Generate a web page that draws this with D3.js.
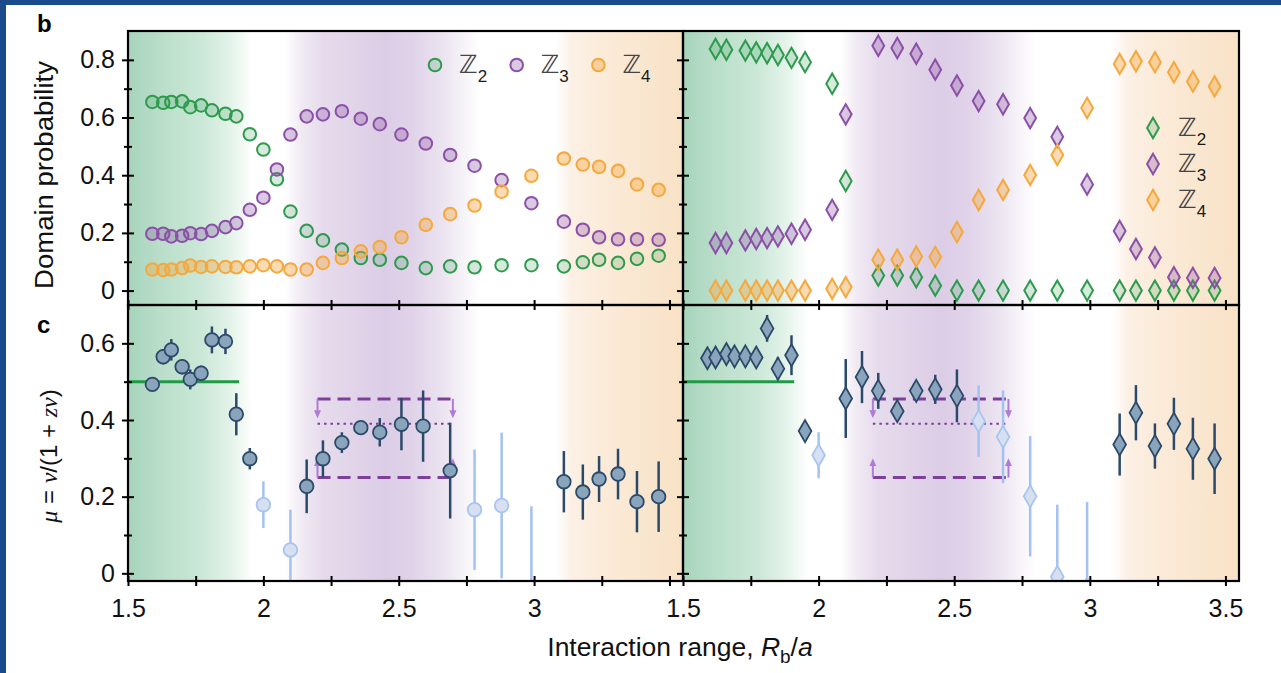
<!DOCTYPE html>
<html>
<head>
<meta charset="utf-8">
<script src="https://cdnjs.cloudflare.com/ajax/libs/d3/7.8.5/d3.min.js"></script>
<style>
  body { margin: 0; background: #fff; }
  svg text { font-family: "Liberation Sans", Arial, sans-serif; }
</style>
</head>
<body>
<div id="chart"></div>
<script>
// ---- data ----
// panel b, left (circles)
var xB_left = [1.59, 1.63, 1.66, 1.70, 1.73, 1.77, 1.81, 1.86, 1.90, 1.95, 2.00, 2.05, 2.10, 2.16, 2.22,
               2.29, 2.36, 2.43, 2.51, 2.60, 2.69, 2.78, 2.88, 2.99, 3.11, 3.18, 3.24, 3.31, 3.38, 3.46];
var z2_left = [0.654, 0.651, 0.654, 0.656, 0.636, 0.642, 0.625, 0.613, 0.604, 0.542, 0.489, 0.386, 0.274, 0.207, 0.174,
               0.142, 0.113, 0.107, 0.096, 0.078, 0.084, 0.081, 0.088, 0.088, 0.084, 0.098, 0.107, 0.096, 0.110, 0.121];
var z3_left = [0.197, 0.197, 0.188, 0.190, 0.199, 0.196, 0.207, 0.220, 0.234, 0.280, 0.322, 0.420, 0.541, 0.604, 0.611,
               0.622, 0.596, 0.577, 0.541, 0.510, 0.470, 0.433, 0.383, 0.303, 0.239, 0.211, 0.185, 0.178, 0.178, 0.176];
var z4_left = [0.073, 0.071, 0.073, 0.078, 0.087, 0.082, 0.084, 0.082, 0.081, 0.084, 0.088, 0.084, 0.073, 0.073, 0.096,
               0.113, 0.136, 0.151, 0.185, 0.228, 0.265, 0.295, 0.343, 0.398, 0.458, 0.437, 0.429, 0.415, 0.368, 0.349];

// panel b, right (diamonds)
var xB_right = [1.62, 1.66, 1.73, 1.77, 1.81, 1.85, 1.90, 1.95, 2.05, 2.10, 2.22, 2.29, 2.36,
                2.43, 2.51, 2.59, 2.68, 2.78, 2.88, 2.99, 3.11, 3.17, 3.24, 3.31, 3.38, 3.46];
var z2_right = [0.838, 0.835, 0.832, 0.826, 0.823, 0.817, 0.807, 0.792, 0.717, 0.380, 0.052, 0.052, 0.046,
                0.017, 0, 0, 0, 0, 0, 0, 0, 0, 0, 0, 0, 0];
var z3_right = [0.165, 0.165, 0.174, 0.179, 0.182, 0.188, 0.197, 0.211, 0.280, 0.611, 0.849, 0.841, 0.821,
                0.766, 0.711, 0.657, 0.646, 0.598, 0.533, 0.368, 0.207, 0.144, 0.115, 0.046, 0.044, 0.044];
var z4_right = [0, 0, 0, 0, 0, 0, 0, 0, 0.006, 0.012, 0.107, 0.107, 0.118,
                0.117, 0.203, 0.314, 0.349, 0.401, 0.470, 0.633, 0.786, 0.795, 0.792, 0.757, 0.725, 0.708];

// panel c, left (circles with error bars)
var xC_left = [1.59, 1.63, 1.66, 1.70, 1.73, 1.77, 1.81, 1.86, 1.90, 1.95, 2.00, 2.10, 2.16, 2.22, 2.29,
               2.36, 2.43, 2.51, 2.59, 2.69, 2.78, 2.88, 2.99, 3.11, 3.18, 3.24, 3.31, 3.38, 3.46];
var mu_left = [0.493, 0.565, 0.583, 0.539, 0.506, 0.522, 0.609, 0.605, 0.415, 0.299, 0.179, 0.061, 0.227, 0.299, 0.341,
               0.380, 0.368, 0.389, 0.384, 0.268, 0.166, 0.177, -0.04, 0.239, 0.212, 0.246, 0.259, 0.187, 0.200];
var muErr_left = [0.012, 0.02, 0.028, 0.02, 0.026, 0.02, 0.035, 0.033, 0.055, 0.028, 0.061, 0.105, 0.07, 0.048, 0.027,
                  0.015, 0.037, 0.068, 0.093, 0.125, 0.157, 0.19, 0.215, 0.08, 0.072, 0.06, 0.066, 0.08, 0.092];
var faded_left = [0, 0, 0, 0, 0, 0, 0, 0, 0, 0, 1, 1, 0, 0, 0, 0, 0, 0, 0, 0, 1, 1, 1, 0, 0, 0, 0, 0, 0];

// panel c, right (diamonds with error bars)
var xC_right = [1.59, 1.62, 1.66, 1.69, 1.73, 1.77, 1.81, 1.85, 1.90, 1.95, 2.00, 2.10, 2.16, 2.22, 2.29,
                2.36, 2.43, 2.51, 2.59, 2.68, 2.78, 2.88, 2.99, 3.11, 3.17, 3.24, 3.31, 3.38, 3.46];
var mu_right = [0.561, 0.563, 0.572, 0.566, 0.566, 0.563, 0.639, 0.534, 0.569, 0.371, 0.308, 0.456, 0.512, 0.476, 0.423,
                0.476, 0.480, 0.463, 0.397, 0.356, 0.201, -0.009, -0.04, 0.336, 0.419, 0.332, 0.390, 0.325, 0.299];
var muErr_right = [0.01, 0.01, 0.01, 0.01, 0.01, 0.01, 0.035, 0.03, 0.052, 0.015, 0.06, 0.103, 0.068, 0.047, 0.02,
                   0.02, 0.038, 0.069, 0.093, 0.121, 0.157, 0.188, 0.226, 0.081, 0.072, 0.059, 0.068, 0.081, 0.092];
var faded_right = [0, 0, 0, 0, 0, 0, 0, 0, 0, 0, 1, 0, 0, 0, 0, 0, 0, 0, 1, 1, 1, 1, 1, 0, 0, 0, 0, 0, 0];

// reference values drawn in panel c
var refMu = 0.5, refX = [1.5, 1.91];
var boundX = [2.2, 2.7], boundHi = 0.455, boundLo = 0.25, boundMid = 0.39, arrowLen = 0.04;

// ticks
var xMajor = [1.5, 2, 2.5, 3, 3.5];
var xMinor = [1.75, 2.25, 2.75, 3.25];
var xLabelsLeft = [1.5, 2, 2.5, 3];
var xLabelsRight = [1.5, 2, 2.5, 3, 3.5];
var yMajorB = [0, 0.2, 0.4, 0.6, 0.8], yMinorB = [0.1, 0.3, 0.5, 0.7];
var yMajorC = [0, 0.2, 0.4, 0.6], yMinorC = [0.1, 0.3, 0.5];
var legendSubs = ["2", "3", "4"];

// ---- styles ----
var seriesColor = ["#2e9a4e", "#8b50a7", "#f5a83e"];
var seriesFillOp = [0.2, 0.3, 0.4];
// background phase shading, stops in R_b/a units
var bandStops = [
  [1.50, "#a6d4bb"], [1.56, "#b1d9c3"], [1.65, "#bde0cc"], [1.78, "#cce8d8"], [1.88, "#e4f3ea"], [1.96, "#ffffff"],
  [2.08, "#ffffff"], [2.14, "#f1eaf4"], [2.22, "#e6dbec"], [2.45, "#dccde6"], [2.55, "#e0d3e9"], [2.66, "#ebe3f0"],
  [2.80, "#ffffff"], [3.08, "#ffffff"], [3.14, "#fcf0e5"], [3.25, "#fbebd9"], [3.55, "#f8e2c6"]
];

var width = 1281, height = 673;
var xDom = [1.5, 3.55];

var svg = d3.select("#chart").append("svg")
  .attr("width", width)
  .attr("height", height);

svg.append("rect").attr("width", width).attr("height", height).attr("fill", "#fff");
// slide background strips
svg.append("rect").attr("width", width).attr("height", 5).attr("fill", "#194b8c");
svg.append("rect").attr("width", 6).attr("height", height).attr("fill", "#194b8c");

var defs = svg.append("defs");
var grad = defs.append("linearGradient").attr("id", "phase")
  .attr("x1", 0).attr("x2", 1).attr("y1", 0).attr("y2", 0);
grad.selectAll("stop")
  .data(bandStops)
  .enter().append("stop")
  .attr("offset", function(d) { return (d[0] - xDom[0]) / (xDom[1] - xDom[0]); })
  .attr("stop-color", function(d) { return d[1]; });

defs.append("marker").attr("id", "arrow")
  .attr("viewBox", "0 0 8 8").attr("refX", 4).attr("refY", 4)
  .attr("markerWidth", 8).attr("markerHeight", 8).attr("markerUnits", "userSpaceOnUse")
  .attr("orient", "auto")
  .append("path").attr("d", "M0,0.5 L8,4 L0,7.5 z").attr("fill", "#b07bd6");

// scales
var xs = [
  d3.scaleLinear().domain(xDom).range([128, 683]),
  d3.scaleLinear().domain(xDom).range([683, 1239])
];
var yB = d3.scaleLinear().domain([-0.05, 0.9]).range([305, 31]);
var yC = d3.scaleLinear().domain([-0.02, 0.7]).range([581, 305]);

var panelCount = 0;
function makePanel(x, y) {
  var id = "clip" + (panelCount++);
  var x0 = x.range()[0], x1 = x.range()[1], y0 = y.range()[1], y1 = y.range()[0];
  defs.append("clipPath").attr("id", id).append("rect")
    .attr("x", x0).attr("y", y0).attr("width", x1 - x0).attr("height", y1 - y0);
  var g = svg.append("g");
  g.append("rect")
    .attr("x", x0).attr("y", y0).attr("width", x1 - x0).attr("height", y1 - y0)
    .attr("fill", "url(#phase)");
  var plot = g.append("g").attr("clip-path", "url(#" + id + ")");
  return plot;
}

var diamond = d3.symbol().type(d3.symbolDiamond);

// ---- panel b ----
function drawB(col, xv, series) {
  var x = xs[col];
  var plot = makePanel(x, yB);
  series.forEach(function(vals, k) {
    var pts = xv.map(function(d, i) { return { x: d, y: vals[i] }; });
    var sel = plot.append("g").selectAll(col ? "path" : "circle")
      .data(pts)
      .enter();
    var m;
    if (col === 0) {
      m = sel.append("circle")
        .attr("cx", function(d) { return x(d.x); })
        .attr("cy", function(d) { return yB(d.y); })
        .attr("r", 6.3);
    } else {
      m = sel.append("path")
        .attr("d", diamond.size(120)())
        .attr("transform", function(d) { return "translate(" + x(d.x) + "," + yB(d.y) + ")"; });
    }
    m.attr("fill", seriesColor[k]).attr("fill-opacity", seriesFillOp[k])
      .attr("stroke", seriesColor[k]).attr("stroke-width", 2);
  });
}
drawB(0, xB_left, [z2_left, z3_left, z4_left]);
drawB(1, xB_right, [z2_right, z3_right, z4_right]);

// ---- panel c ----
function drawC(col, xv, mu, err, faded) {
  var x = xs[col];
  var plot = makePanel(x, yC);

  // green reference line
  plot.append("line")
    .attr("x1", x(refX[0])).attr("x2", x(refX[1]))
    .attr("y1", yC(refMu)).attr("y2", yC(refMu))
    .attr("stroke", "#1f9a45").attr("stroke-width", 3);

  // bounds
  var b = plot.append("g");
  [boundHi, boundLo].forEach(function(v) {
    b.append("line")
      .attr("x1", x(boundX[0])).attr("x2", x(boundX[1]))
      .attr("y1", yC(v)).attr("y2", yC(v))
      .attr("stroke", "#7e3e9b").attr("stroke-width", 3)
      .attr("stroke-dasharray", "13,7");
  });
  b.append("line")
    .attr("x1", x(boundX[0])).attr("x2", x(boundX[1]))
    .attr("y1", yC(boundMid)).attr("y2", yC(boundMid))
    .attr("stroke", "#7e3e9b").attr("stroke-width", 2)
    .attr("stroke-dasharray", "2.5,4");
  boundX.forEach(function(bx) {
    b.append("line")
      .attr("x1", x(bx)).attr("x2", x(bx))
      .attr("y1", yC(boundHi)).attr("y2", yC(boundHi - arrowLen))
      .attr("stroke", "#b07bd6").attr("stroke-width", 2)
      .attr("marker-end", "url(#arrow)");
    b.append("line")
      .attr("x1", x(bx)).attr("x2", x(bx))
      .attr("y1", yC(boundLo)).attr("y2", yC(boundLo + arrowLen))
      .attr("stroke", "#b07bd6").attr("stroke-width", 2)
      .attr("marker-end", "url(#arrow)");
  });

  var pts = xv.map(function(d, i) { return { x: d, y: mu[i], e: err[i], f: faded[i] }; });

  plot.append("g").selectAll("line")
    .data(pts)
    .enter().append("line")
    .attr("x1", function(d) { return x(d.x); })
    .attr("x2", function(d) { return x(d.x); })
    .attr("y1", function(d) { return yC(d.y - d.e); })
    .attr("y2", function(d) { return yC(d.y + d.e); })
    .attr("stroke", function(d) { return d.f ? "#a3c1f3" : "#2b4a6a"; })
    .attr("stroke-width", 2.5);

  var sel = plot.append("g").selectAll(".pt").data(pts).enter();
  var m;
  if (col === 0) {
    m = sel.append("circle")
      .attr("cx", function(d) { return x(d.x); })
      .attr("cy", function(d) { return yC(d.y); })
      .attr("r", 6.8);
  } else {
    m = sel.append("path")
      .attr("d", diamond.size(140)())
      .attr("transform", function(d) { return "translate(" + x(d.x) + "," + yC(d.y) + ")"; });
  }
  m.attr("fill", function(d) { return d.f ? "#d7e0f1" : "#8aa4bb"; })
    .attr("stroke", function(d) { return d.f ? "#a8c5f2" : "#2b4a6a"; })
    .attr("stroke-width", 1.8);
}
drawC(0, xC_left, mu_left, muErr_left, faded_left);
drawC(1, xC_right, mu_right, muErr_right, faded_right);

// ---- frames and axes ----
var fmtTick = function(d) { return d === 0 ? "0" : String(+d.toFixed(2)); };

function styleAxis(ax, half) {
  ax.attr("font-size", 25).attr("font-family", "Liberation Sans, Arial, sans-serif");
  ax.select(".domain").remove();
  ax.selectAll(".tick line").attr("stroke", "#000").attr("stroke-width", 2);
  ax.selectAll(".tick text").attr("fill", "#111");
}

[0, 1].forEach(function(col) {
  var x = xs[col];
  [yB, yC].forEach(function(y, row) {
    svg.append("rect")
      .attr("x", x.range()[0]).attr("y", y.range()[1])
      .attr("width", x.range()[1] - x.range()[0])
      .attr("height", y.range()[0] - y.range()[1])
      .attr("fill", "none").attr("stroke", "#000").attr("stroke-width", 2.2);

    var major = row ? yMajorC : yMajorB, minor = row ? yMinorC : yMinorB;
    var ay = svg.append("g").attr("transform", "translate(" + x.range()[0] + ",0)")
      .call(d3.axisLeft(y).tickValues(major).tickSize(6).tickPadding(7)
        .tickFormat(col === 0 ? fmtTick : ""));
    styleAxis(ay);
    ay.selectAll(".tick line").attr("x1", 6);
    var am = svg.append("g").attr("transform", "translate(" + x.range()[0] + ",0)")
      .call(d3.axisLeft(y).tickValues(minor).tickSize(4).tickFormat(""));
    styleAxis(am);
    am.selectAll(".tick line").attr("x1", 4);
  });

  // shared x ticks between b and c, and bottom axis with labels
  var labels = col ? xLabelsRight : xLabelsLeft;
  [305, 581].forEach(function(yy) {
    var ax = svg.append("g").attr("transform", "translate(0," + yy + ")")
      .call(d3.axisBottom(x).tickValues(xMajor.concat(xMinor)).tickSize(5).tickPadding(13)
        .tickFormat(function(d) { return (yy === 581 && labels.indexOf(d) >= 0) ? fmtTick(d) : ""; }));
    styleAxis(ax);
    ax.selectAll(".tick line").attr("y1", -5);
  });
});

// ---- legends ----
function legendEntry(px, py, k, shape, tx) {
  if (shape === "circle") {
    svg.append("circle").attr("cx", px).attr("cy", py).attr("r", 6.3)
      .attr("fill", seriesColor[k]).attr("fill-opacity", seriesFillOp[k])
      .attr("stroke", seriesColor[k]).attr("stroke-width", 2);
  } else {
    svg.append("path").attr("d", diamond.size(120)())
      .attr("transform", "translate(" + px + "," + py + ")")
      .attr("fill", seriesColor[k]).attr("fill-opacity", seriesFillOp[k])
      .attr("stroke", seriesColor[k]).attr("stroke-width", 2);
  }
  var t = svg.append("text").attr("x", tx).attr("y", py + 8)
    .attr("font-size", 25).attr("fill", "#444")
    .style("font-family", "DejaVu Sans, sans-serif");
  t.append("tspan").text("\u2124");
  t.append("tspan").attr("dy", 9).attr("font-size", 17).attr("fill", "#1a1a1a")
    .style("font-family", "Liberation Sans, Arial, sans-serif")
    .text(legendSubs[k]);
}
[0, 1, 2].forEach(function(k) {
  legendEntry(435 + k * 81.7, 65, k, "circle", 459 + k * 81.7);
  legendEntry(1153, 128 + k * 36, k, "diamond", 1178);
});

// ---- labels ----
svg.append("text").attr("x", 37).attr("y", 32).attr("font-size", 24).attr("font-weight", "bold").text("b");
svg.append("text").attr("x", 37).attr("y", 333).attr("font-size", 24).attr("font-weight", "bold").text("c");

svg.append("text")
  .attr("transform", "translate(53,175) rotate(-90)")
  .attr("text-anchor", "middle")
  .attr("font-size", 25)
  .attr("fill", "#111")
  .attr("textLength", 228)
  .attr("lengthAdjust", "spacingAndGlyphs")
  .text("Domain probability");

var muLab = svg.append("text")
  .attr("transform", "translate(57,456) rotate(-90)")
  .attr("text-anchor", "middle")
  .attr("font-size", 24)
  .attr("fill", "#111");
var serifIt = "Liberation Serif, Times New Roman, serif";
muLab.append("tspan").style("font-family", serifIt).style("font-style", "italic").text("\u03bc");
muLab.append("tspan").text(" = ");
muLab.append("tspan").style("font-family", serifIt).style("font-style", "italic").text("\u03bd");
muLab.append("tspan").text("/(1 + ");
muLab.append("tspan").style("font-family", serifIt).style("font-style", "italic").text("z\u03bd");
muLab.append("tspan").text(")");

var xLab = svg.append("text")
  .attr("x", 680).attr("y", 656)
  .attr("text-anchor", "middle")
  .attr("font-size", 26.5)
  .attr("fill", "#111");
xLab.append("tspan").text("Interaction range, ");
xLab.append("tspan").style("font-style", "italic").text("R");
xLab.append("tspan").attr("dy", 7).attr("font-size", 19).text("b");
xLab.append("tspan").attr("dy", -7).text("/");
xLab.append("tspan").style("font-style", "italic").text("a");
</script>
</body>
</html>
